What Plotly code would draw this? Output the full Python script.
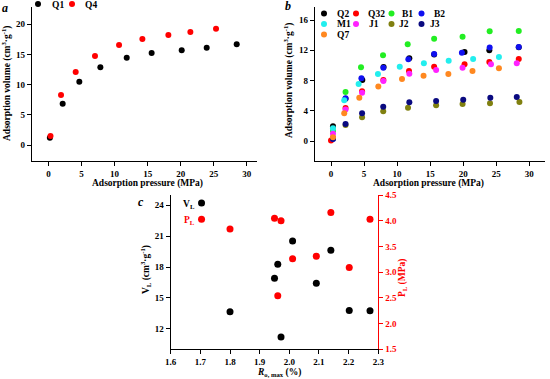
import plotly.graph_objects as go

# ---------------- data ----------------
# panel a
q1_p = [0.2, 2.14, 4.66, 7.84, 11.83, 15.6, 20.15, 23.93, 28.47]
q1_v = [1.2, 6.85, 10.5, 12.87, 14.48, 15.25, 15.7, 16.13, 16.68]
q4_p = [0.3, 1.89, 4.11, 7.03, 10.67, 14.2, 18.13, 21.46, 25.34]
q4_v = [1.5, 8.29, 12.1, 14.75, 16.57, 17.57, 18.23, 18.73, 19.28]

# panel b
q2_p = [0.3, 2.2, 4.74, 7.95, 11.85, 15.6, 20.2, 23.95, 28.4]
q2_v = [1.94, 5.6, 8.07, 9.8, 10.94, 11.45, 11.77, 12.0, 12.4]
q32_p = [0.0, 2.2, 4.7, 7.92, 11.8, 15.6, 20.2, 23.95, 28.4]
q32_v = [0.05, 4.36, 6.57, 8.07, 9.26, 9.83, 10.14, 10.45, 10.85]
b1_p = [0.3, 2.2, 4.54, 7.87, 11.6, 15.6, 19.9, 24.0, 28.4]
b1_v = [1.32, 6.48, 9.75, 11.35, 12.8, 13.53, 13.8, 14.5, 14.55]
b2_p = [0.3, 2.2, 4.6, 7.92, 11.7, 15.6, 19.8, 24.0, 28.4]
b2_v = [0.26, 5.64, 8.29, 9.7, 10.8, 11.5, 11.68, 12.38, 12.43]
m1_p = [0.3, 2.0, 4.18, 7.1, 10.4, 14.05, 17.8, 21.5, 25.4]
m1_v = [1.68, 5.4, 7.54, 8.86, 9.83, 10.27, 10.62, 10.85, 11.1]
j1_p = [0.3, 2.2, 4.7, 7.92, 11.85, 15.9, 19.9, 24.2, 28.1]
j1_v = [0.97, 4.15, 6.39, 7.92, 8.9, 9.39, 9.7, 10.14, 10.27]
j2_p = [0.3, 2.2, 4.7, 7.9, 11.65, 15.9, 19.9, 24.05, 28.5]
j2_v = [0.4, 2.1, 3.13, 3.92, 4.41, 4.72, 4.89, 4.98, 5.16]
j3_p = [0.3, 2.2, 4.7, 7.9, 11.85, 15.9, 20.0, 24.1, 28.1]
j3_v = [0.3, 2.25, 3.66, 4.54, 5.12, 5.29, 5.47, 5.73, 5.82]
q7_p = [0.3, 2.0, 4.28, 7.16, 10.74, 14.0, 17.75, 21.4, 25.4]
q7_v = [0.49, 3.66, 5.73, 7.2, 8.2, 8.64, 8.86, 9.26, 9.61]

# panel c
ro_max = [1.704, 1.80, 1.95, 1.961, 1.972, 2.011, 2.091, 2.14, 2.202, 2.272]
vl = [24.23, 13.65, 16.9, 18.26, 11.19, 20.53, 16.41, 19.62, 13.78, 13.75]
pl = [4.03, 3.84, 4.05, 2.54, 4.0, 3.26, 3.31, 4.16, 3.09, 4.03]

c_ticks = [1.6, 1.7, 1.8, 1.9, 2.0, 2.1, 2.2, 2.3]
vl_ticks = [12, 15, 18, 21, 24]
pl_ticks = [1.5, 2.0, 2.5, 3.0, 3.5, 4.0, 4.5]

# ---------------- layout helpers ----------------
W, H = 550, 379
FONT = "Liberation Serif"


def px_x(v):
    return v / W


def px_y(v):
    return 1 - v / H


tickfont = dict(family=FONT, size=9, color="black", weight="bold")
axis_common = dict(showline=True, linecolor="black", linewidth=1.2, ticks="outside",
                   ticklen=4, tickwidth=1.2, tickcolor="black", showgrid=False,
                   zeroline=False, tickfont=tickfont, automargin=False)

fig = go.Figure()

MS = 6
# (name, x, y, colour, legend-symbol position px, label left-edge px)
series_a = [("Q1", q1_p, q1_v, "#000000", (38, 4), 50),
            ("Q4", q4_p, q4_v, "#FF0000", (72, 4), 83)]
series_b = [("Q2", q2_p, q2_v, "#000000", (324, 13.5), 335),
            ("Q32", q32_p, q32_v, "#FF0000", (356, 13.5), 366),
            ("B1", b1_p, b1_v, "#22EE22", (391.5, 13.5), 400),
            ("B2", b2_p, b2_v, "#1010F0", (421.5, 13.5), 431.5),
            ("M1", m1_p, m1_v, "#22EEEE", (324, 24), 335),
            ("J1", j1_p, j1_v, "#FF22FF", (356, 24), 366.5),
            ("J2", j2_p, j2_v, "#808010", (391.5, 24), 397),
            ("J3", j3_p, j3_v, "#0A0A80", (421.5, 24), 428),
            ("Q7", q7_p, q7_v, "#FF8820", (324, 34.5), 335)]

tfont = dict(family=FONT, size=9.5, color="black", weight="bold")
legend_layouts = {}
label_anns = []
LEG_OFF = 20
n = 0
for axes, series in ((("x", "y"), series_a), (("x2", "y2"), series_b)):
    for name, xs, ys, col, (mx, my), lx in series:
        n += 1
        lname = "legend" if n == 1 else f"legend{n}"
        fig.add_trace(go.Scatter(x=xs, y=ys, mode="markers", name=name,
                                 xaxis=axes[0], yaxis=axes[1], showlegend=False,
                                 marker=dict(size=MS, color=col, line=dict(width=0))))
        # legend symbol (label is drawn as an annotation to match the tight spacing)
        fig.add_trace(go.Scatter(x=[None], y=[None], mode="markers", name="",
                                 xaxis=axes[0], yaxis=axes[1], legend=lname,
                                 showlegend=True, hoverinfo="skip",
                                 marker=dict(size=MS, color=col, line=dict(width=0))))
        legend_layouts[lname] = dict(x=px_x(mx - LEG_OFF), y=px_y(my), xanchor="left",
                                     yanchor="middle", bgcolor="rgba(0,0,0,0)",
                                     borderwidth=0,
                                     font=dict(family=FONT, size=9, color="black", weight="bold"))
        label_anns.append(dict(text=name, x=px_x(lx), y=px_y(my + 0.5), xanchor="left",
                               font=tfont))

fig.add_trace(go.Scatter(x=ro_max, y=vl, mode="markers", name="VL", showlegend=False,
                         xaxis="x3", yaxis="y3", marker=dict(size=MS + 1, color="black")))
fig.add_trace(go.Scatter(x=ro_max, y=pl, mode="markers", name="PL", showlegend=False,
                         xaxis="x3", yaxis="y4", marker=dict(size=MS + 1, color="#FF0000")))

fig.update_layout(
    width=W, height=H, margin=dict(l=0, r=0, t=0, b=0, autoexpand=False),
    paper_bgcolor="white", plot_bgcolor="rgba(0,0,0,0)",
    showlegend=True,
    xaxis=dict(axis_common, domain=[px_x(32), px_x(257)], range=[-2.5, 31.54],
               tickvals=[0, 5, 10, 15, 20, 25, 30], anchor="y"),
    yaxis=dict(axis_common, domain=[px_y(161), px_y(7)], range=[-2.65, 22.87],
               tickvals=[0, 5, 10, 15, 20], anchor="x"),
    xaxis2=dict(axis_common, domain=[px_x(315), px_x(545)], range=[-2.42, 32.37],
                tickvals=[0, 5, 10, 15, 20, 25, 30], anchor="y2"),
    yaxis2=dict(axis_common, domain=[px_y(161), px_y(7)], range=[-2.645, 17.72],
                tickvals=[0, 4, 8, 12, 16], anchor="x2"),
    xaxis3=dict(axis_common, domain=[px_x(170.7), px_x(378.3)], range=[1.6, 2.3],
                tickvals=c_ticks, ticktext=[f"{t:.1f}" for t in c_ticks], anchor="y3"),
    yaxis3=dict(axis_common, domain=[px_y(349.3), px_y(195)], range=[10, 25],
                tickvals=vl_ticks, anchor="x3"),
    yaxis4=dict(axis_common, domain=[px_y(349.3), px_y(195)], range=[1.5, 4.5],
                tickvals=pl_ticks, ticktext=[f"{t:.1f}" for t in pl_ticks],
                overlaying="y3", side="right", anchor="x3",
                linecolor="#FF0000", tickcolor="#FF0000",
                tickfont=dict(family=FONT, size=9, color="#FF0000", weight="bold")),
    **legend_layouts,
)

ann = label_anns + [
    dict(text="<i>a</i>", x=px_x(5), y=px_y(8), font=dict(family=FONT, size=12, color="black", weight="bold")),
    dict(text="<i>b</i>", x=px_x(288), y=px_y(6), font=dict(family=FONT, size=12, color="black", weight="bold")),
    dict(text="<i>c</i>", x=px_x(140.7), y=px_y(202), font=dict(family=FONT, size=12, color="black", weight="bold")),
    dict(text="Adsorption pressure (MPa)", x=px_x(147), y=px_y(183.5), font=tfont),
    dict(text="Adsorption pressure (MPa)", x=px_x(428), y=px_y(184), font=tfont),
    dict(text="Adsorption volume (cm<sup>3</sup>·g<sup>-1</sup>)", x=px_x(7), y=px_y(83),
         textangle=-90, font=tfont),
    dict(text="Adsorption volume (cm<sup>3</sup>·g<sup>-1</sup>)", x=px_x(289), y=px_y(80),
         textangle=-90, font=tfont),
    dict(text="<i>R</i><sub>o, max</sub> (%)", x=px_x(279), y=px_y(372), font=tfont),
    dict(text="V<sub>L</sub> (cm<sup>3</sup>·g<sup>-1</sup>)", x=px_x(145), y=px_y(270),
         textangle=-90, font=tfont),
    dict(text="P<sub>L</sub> (MPa)", x=px_x(402), y=px_y(278), textangle=-90,
         font=dict(family=FONT, size=9.5, color="#FF0000", weight="bold")),
    dict(text="V<sub>L</sub>", x=px_x(189), y=px_y(204), font=tfont),
    dict(text="P<sub>L</sub>", x=px_x(189), y=px_y(220),
         font=dict(family=FONT, size=9.5, color="#FF0000", weight="bold")),
]
for a in ann:
    a.setdefault("xanchor", "center")
    a.update(xref="paper", yref="paper", showarrow=False, yanchor="middle")
fig.update_layout(annotations=ann)

fig.write_html("out.html", config={"displayModeBar": False},
               post_script="document.body.style.margin='0';document.body.style.overflow='hidden';")
